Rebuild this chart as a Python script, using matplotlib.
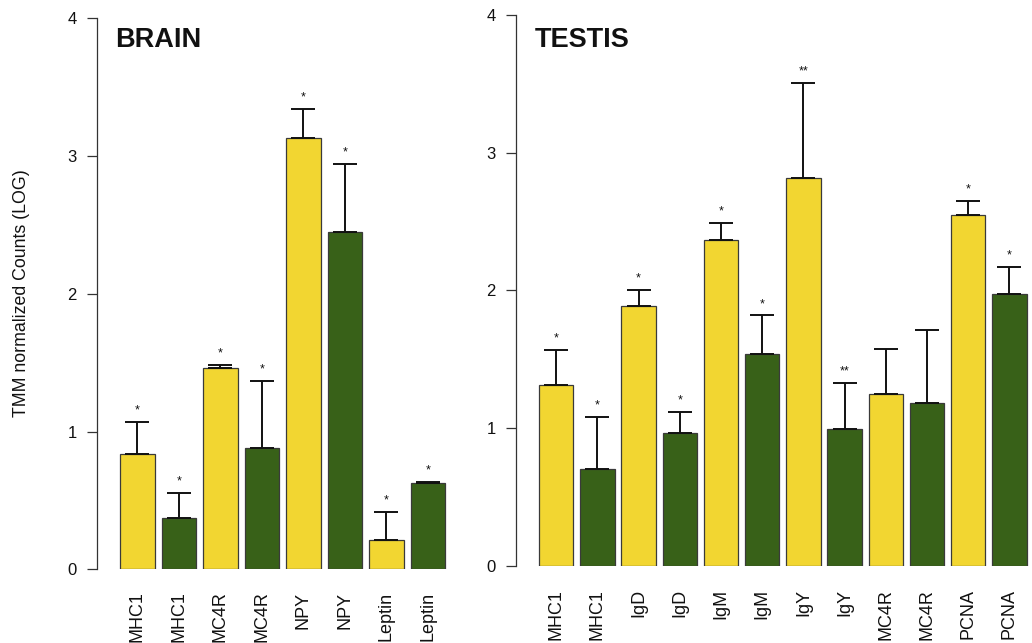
import matplotlib
matplotlib.use("Agg")
import matplotlib.pyplot as plt

plt.rcParams['font.family'] = ['Liberation Sans', 'DejaVu Sans']

# ---- data ----
brain_genes = ["MHC1", "MHC1", "MC4R", "MC4R", "NPY", "NPY", "Leptin", "Leptin"]
brain_values = [0.835, 0.371, 1.459, 0.883, 3.129, 2.449, 0.214, 0.627]
brain_err_top = [1.067, 0.553, 1.486, 1.367, 3.340, 2.945, 0.419, 0.636]
brain_stars = ["*", "*", "*", "*", "*", "*", "*", "*"]

testis_genes = ["MHC1", "MHC1", "IgD", "IgD", "IgM", "IgM", "IgY", "IgY",
                "MC4R", "MC4R", "PCNA", "PCNA"]
testis_values = [1.315, 0.702, 1.884, 0.961, 2.363, 1.539, 2.818, 0.991,
                 1.250, 1.182, 2.545, 1.973]
testis_err_top = [1.565, 1.080, 2.000, 1.116, 2.491, 1.818, 3.506, 1.330,
                  1.577, 1.714, 2.652, 2.167]
testis_stars = ["*", "*", "*", "*", "*", "*", "**", "**", "", "", "*", "*"]

YELLOW = "#F2D631"
GREEN = "#386118"
yticks = [0, 1, 2, 3, 4]

W, H = 1032, 643
fig = plt.figure(figsize=(W / 100, H / 100), dpi=100)


def make_panel(rect_px, xlim, genes, values, err_top, stars, title, title_x, label_pad):
    left, top, right, bottom = rect_px
    ax = fig.add_axes([left / W, (H - bottom) / H, (right - left) / W, (bottom - top) / H])
    n = len(genes)
    xs = list(range(n))
    colors = [YELLOW if i % 2 == 0 else GREEN for i in xs]
    ax.bar(xs, values, width=1 / 1.2, color=colors, edgecolor="#3a3a3a", linewidth=0.9, zorder=2)
    lower = [0] * n
    upper = [e - v for e, v in zip(err_top, values)]
    ax.errorbar(xs, values, yerr=[lower, upper], fmt="none", ecolor="#111111",
                elinewidth=1.4, capsize=8.5, capthick=1.4, zorder=3)
    for x, e, s in zip(xs, err_top, stars):
        if s:
            ax.annotate(s, (x, e), xytext=(0, 4), textcoords="offset points",
                        ha="center", va="bottom", fontsize=9, color="#111111")
    ax.set_xlim(*xlim)
    ax.set_ylim(0, 4)
    for sp in ["top", "right", "bottom"]:
        ax.spines[sp].set_visible(False)
    ax.spines["left"].set_bounds(0, 4)
    ax.spines["left"].set_color("#333333")
    ax.spines["left"].set_linewidth(0.9)
    ax.set_yticks(yticks)
    ax.set_yticklabels([str(t) for t in yticks])
    ax.tick_params(axis="y", length=7.2, width=0.9, color="#333333", pad=7.5,
                   labelsize=12, labelcolor="#111111")
    ax.set_xticks(xs)
    ax.set_xticklabels(genes, rotation=90, fontsize=13, color="#111111")
    ax.tick_params(axis="x", length=0, pad=label_pad)
    ax.patch.set_alpha(0)
    fig.text(title_x / W, (H - 40) / H, title, fontsize=19.5, fontweight="bold",
             ha="left", va="center", color="#111111")
    return ax


# left panel: bar pitch 41.5 px, first bar center at 137.3 px
make_panel((97.3, 18.3, 460, 569.3), (-0.964, 7.776), brain_genes, brain_values,
           brain_err_top, brain_stars, "BRAIN", 115, 16)
# right panel: bar pitch 41.2 px, first bar center at 556.2 px
make_panel((516, 15.2, 1032, 565.7), (-0.976, 11.549), testis_genes, testis_values,
           testis_err_top, testis_stars, "TESTIS", 535, 17)

fig.text(22 / W, (H - 293) / H, "TMM normalized Counts (LOG)", rotation=90,
         ha="center", va="center", fontsize=12.8, color="#111111")

fig.savefig("out.png", dpi=100)
